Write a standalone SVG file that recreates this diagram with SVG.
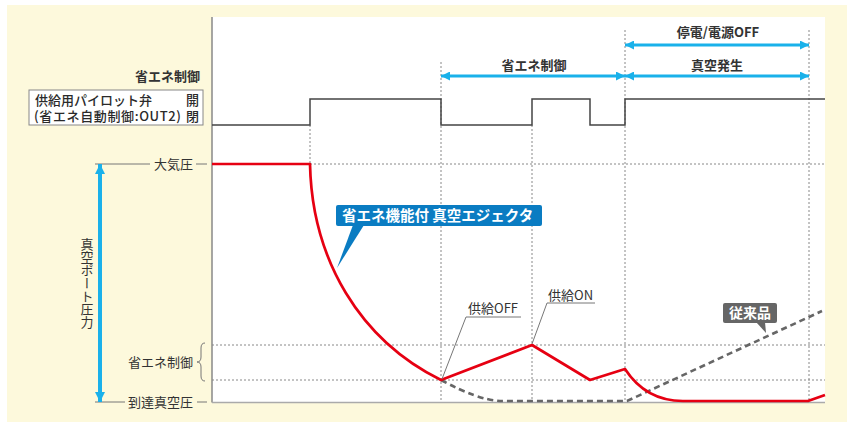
<svg xmlns="http://www.w3.org/2000/svg" width="854" height="426" viewBox="0 0 854 426">
<style>
text{font-family:"Noto Sans CJK JP","Noto Sans",sans-serif;fill:#333;font-size:13px}
.b{font-weight:bold}
.m{font-weight:500;fill:#2a2a2a}
.w{fill:#fff;font-weight:bold}
.dot{stroke:#888;stroke-width:1;stroke-dasharray:2,2;fill:none}
.thin{stroke:#777;stroke-width:1;fill:none}
.blue{stroke:#1ab1ea;stroke-width:3;fill:none;marker-start:url(#ah);marker-end:url(#ah)}
.red{stroke:#e60012;stroke-width:2.7;fill:none;stroke-linejoin:round}
.grey{stroke:#666;stroke-width:2.6;fill:none;stroke-dasharray:6,4}
</style>
<defs>
<marker id="ah" viewBox="0 0 10 10" refX="10" refY="5" markerWidth="10" markerHeight="9" markerUnits="userSpaceOnUse" orient="auto-start-reverse">
<path d="M0,0 L10,5 L0,10 z" fill="#1ab1ea"/>
</marker>
<marker id="ahv" viewBox="0 0 10 10" refX="10" refY="5" markerWidth="10" markerHeight="10" markerUnits="userSpaceOnUse" orient="auto-start-reverse">
<path d="M0,0 L10,5 L0,10 z" fill="#1ab1ea"/>
</marker>
</defs>
<g id="background">
<rect x="7" y="5" width="840" height="417" fill="#fdf9dc"/>
<rect x="212" y="17" width="613" height="385" fill="#fff"/>
</g>
<g id="grid">
<line class="dot" x1="310" y1="125" x2="310" y2="164"/>
<line class="dot" x1="441" y1="62" x2="441" y2="402"/>
<line class="dot" x1="532" y1="125" x2="532" y2="402"/>
<line class="dot" x1="625" y1="30" x2="625" y2="402"/>
<line class="dot" x1="809" y1="30" x2="809" y2="402"/>
<line class="dot" x1="310" y1="164" x2="825" y2="164"/>
<line class="dot" x1="212" y1="345" x2="825" y2="345"/>
<line class="dot" x1="212" y1="380" x2="825" y2="380"/>
</g>
<g id="axes">
<line x1="212" y1="17" x2="212" y2="402.5" stroke="#888" stroke-width="1.5"/>
<line x1="212" y1="402.5" x2="825" y2="402.5" stroke="#aaa" stroke-width="1.5"/>
</g>
<g id="valve-signal">
<polyline points="212,125 310,125 310,99 441,99 441,125 532,125 532,99 590,99 590,125 625,125 625,99 825,99" fill="none" stroke="#444" stroke-width="1.5"/>
</g>
<g id="valve-label">
<text class="b" x="200" y="81" text-anchor="end">省エネ制御</text>
<rect x="29" y="90" width="174" height="35" fill="#fff" stroke="#888" stroke-width="1"/>
<text class="m"><tspan x="35" y="105">供給用パイロット弁</tspan><tspan x="186" y="105">開</tspan><tspan x="34" y="121" textLength="147" lengthAdjust="spacing">(省エネ自動制御:OUT2)</tspan><tspan x="186" y="121">閉</tspan></text>
</g>
<g id="pressure-axis">
<line class="thin" x1="95" y1="164" x2="150" y2="164"/>
<text x="154" y="169">大気圧</text>
<line class="thin" x1="196" y1="164" x2="207" y2="164"/>
<line class="thin" x1="95" y1="402" x2="125" y2="402"/>
<text x="128" y="407">到達真空圧</text>
<line class="thin" x1="197" y1="402" x2="207" y2="402"/>
<text x="128" y="367">省エネ制御</text>
<path class="thin" d="M205,343 Q201,343 201,348 L201,357 Q201,362 197,362 Q201,362 201,367 L201,376 Q201,381 205,381"/>
<text x="87" y="238" style="writing-mode:vertical-rl" writing-mode="tb">真空ポート圧力</text>
</g>
<g id="top-labels">
<text class="b" x="718" y="37" text-anchor="middle">停電/電源OFF</text>
<text class="b" x="717" y="70" text-anchor="middle">真空発生</text>
<text class="b" x="534" y="70" text-anchor="middle">省エネ制御</text>
</g>
<g id="curves">
<path class="grey" d="M441,380 Q478,400 500,401 L627,401 L822,311"/>
<path class="red" d="M212,164 L310,164 C312,260 360,340 441,380 L532,345 L590,380 L625,369 C640,392 660,401 683,401 L808,401 L825,395"/>
</g>
<g id="callout-ejector">
<rect x="336" y="205" width="206" height="21" rx="2" fill="#0a7cc2"/>
<path d="M353,225 L364,225 L337,268 z" fill="#0a7cc2"/>
<text class="w" x="342" y="221" style="font-size:14.5px">省エネ機能付 真空エジェクタ</text>
</g>
<g id="callout-conventional">
<rect x="723" y="303" width="54" height="20" rx="2" fill="#666"/>
<path d="M756,322 L765,322 L766,333 z" fill="#666"/>
<text class="w" x="729" y="318" style="font-size:14px">従来品</text>
</g>
<g id="labels-supply">
<text x="468" y="313">供給OFF</text>
<text x="548" y="300">供給ON</text>
</g>
<g id="connectors">
<line class="blue" x1="625" y1="45" x2="809" y2="45"/>
<line class="blue" x1="441" y1="76" x2="625" y2="76"/>
<line class="blue" x1="625" y1="76" x2="809" y2="76"/>
<line x1="100" y1="164" x2="100" y2="402" stroke="#1ab1ea" stroke-width="4" marker-start="url(#ahv)" marker-end="url(#ahv)"/>
<polyline class="thin" points="521,317 466,317 442,379"/>
<polyline class="thin" points="595,303 547,303 532,344"/>
</g>
</svg>
